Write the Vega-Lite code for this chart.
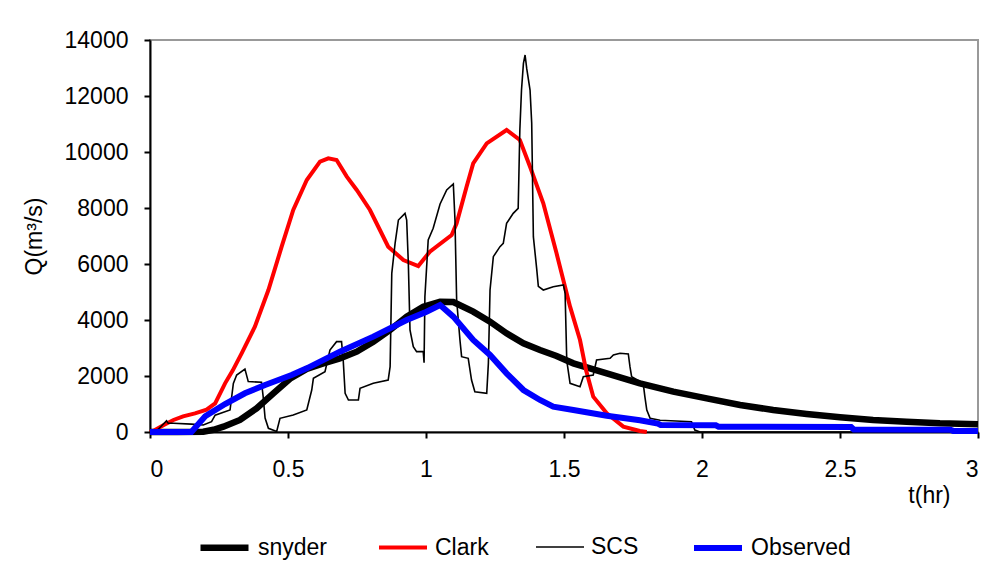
{
  "$schema": "https://vega.github.io/schema/vega-lite/v6.json",
  "autosize": {"type": "none"},
  "width": 828,
  "height": 392,
  "padding": {"left": 150, "top": 40, "right": 25, "bottom": 152},
  "background": "white",
  "config": {
    "font": "Liberation Sans",
    "view": {"stroke": "#999999", "strokeWidth": 2},
    "axis": {
      "grid": false,
      "domainColor": "black",
      "domainWidth": 2,
      "tickColor": "black",
      "tickWidth": 2,
      "tickSize": 6,
      "labelFont": "Liberation Sans",
      "labelFontSize": 23,
      "labelColor": "black",
      "titleFont": "Liberation Sans",
      "titleFontSize": 23,
      "titleFontWeight": "normal",
      "titleColor": "black"
    }
  },
  "datasets": {
    "flows": [
      {"series": "snyder", "t": 0, "q": 0},
      {"series": "snyder", "t": 0.1, "q": 0},
      {"series": "snyder", "t": 0.193, "q": 10},
      {"series": "snyder", "t": 0.23, "q": 80},
      {"series": "snyder", "t": 0.266, "q": 190},
      {"series": "snyder", "t": 0.326, "q": 430},
      {"series": "snyder", "t": 0.386, "q": 845},
      {"series": "snyder", "t": 0.447, "q": 1381},
      {"series": "snyder", "t": 0.507, "q": 1900},
      {"series": "snyder", "t": 0.568, "q": 2250},
      {"series": "snyder", "t": 0.628, "q": 2452},
      {"series": "snyder", "t": 0.688, "q": 2631},
      {"series": "snyder", "t": 0.749, "q": 2869},
      {"series": "snyder", "t": 0.809, "q": 3226},
      {"series": "snyder", "t": 0.87, "q": 3643},
      {"series": "snyder", "t": 0.93, "q": 4119},
      {"series": "snyder", "t": 0.99, "q": 4476},
      {"series": "snyder", "t": 1.051, "q": 4655},
      {"series": "snyder", "t": 1.099, "q": 4640},
      {"series": "snyder", "t": 1.171, "q": 4298},
      {"series": "snyder", "t": 1.232, "q": 3940},
      {"series": "snyder", "t": 1.292, "q": 3524},
      {"series": "snyder", "t": 1.353, "q": 3167},
      {"series": "snyder", "t": 1.413, "q": 2929},
      {"series": "snyder", "t": 1.473, "q": 2714},
      {"series": "snyder", "t": 1.534, "q": 2452},
      {"series": "snyder", "t": 1.655, "q": 2095},
      {"series": "snyder", "t": 1.775, "q": 1738},
      {"series": "snyder", "t": 1.896, "q": 1440},
      {"series": "snyder", "t": 2.017, "q": 1202},
      {"series": "snyder", "t": 2.138, "q": 964},
      {"series": "snyder", "t": 2.258, "q": 786},
      {"series": "snyder", "t": 2.379, "q": 643},
      {"series": "snyder", "t": 2.5, "q": 524},
      {"series": "snyder", "t": 2.62, "q": 429},
      {"series": "snyder", "t": 2.741, "q": 369},
      {"series": "snyder", "t": 2.862, "q": 310},
      {"series": "snyder", "t": 3.0, "q": 274},

      {"series": "Clark", "t": 0, "q": 0},
      {"series": "Clark", "t": 0.018, "q": 71},
      {"series": "Clark", "t": 0.05, "q": 250},
      {"series": "Clark", "t": 0.085, "q": 430},
      {"series": "Clark", "t": 0.12, "q": 560},
      {"series": "Clark", "t": 0.163, "q": 667},
      {"series": "Clark", "t": 0.205, "q": 800},
      {"series": "Clark", "t": 0.236, "q": 1024},
      {"series": "Clark", "t": 0.272, "q": 1738},
      {"series": "Clark", "t": 0.3, "q": 2200},
      {"series": "Clark", "t": 0.332, "q": 2810},
      {"series": "Clark", "t": 0.38, "q": 3762},
      {"series": "Clark", "t": 0.429, "q": 5071},
      {"series": "Clark", "t": 0.477, "q": 6619},
      {"series": "Clark", "t": 0.519, "q": 7929},
      {"series": "Clark", "t": 0.568, "q": 9000},
      {"series": "Clark", "t": 0.616, "q": 9655},
      {"series": "Clark", "t": 0.646, "q": 9774},
      {"series": "Clark", "t": 0.676, "q": 9714},
      {"series": "Clark", "t": 0.713, "q": 9119},
      {"series": "Clark", "t": 0.749, "q": 8643},
      {"series": "Clark", "t": 0.797, "q": 7929},
      {"series": "Clark", "t": 0.833, "q": 7214},
      {"series": "Clark", "t": 0.863, "q": 6619},
      {"series": "Clark", "t": 0.918, "q": 6143},
      {"series": "Clark", "t": 0.972, "q": 5929},
      {"series": "Clark", "t": 1.014, "q": 6440},
      {"series": "Clark", "t": 1.093, "q": 7036},
      {"series": "Clark", "t": 1.111, "q": 7452},
      {"series": "Clark", "t": 1.147, "q": 8762},
      {"series": "Clark", "t": 1.171, "q": 9595},
      {"series": "Clark", "t": 1.22, "q": 10310},
      {"series": "Clark", "t": 1.292, "q": 10786},
      {"series": "Clark", "t": 1.34, "q": 10429},
      {"series": "Clark", "t": 1.377, "q": 9476},
      {"series": "Clark", "t": 1.425, "q": 8167},
      {"series": "Clark", "t": 1.473, "q": 6381},
      {"series": "Clark", "t": 1.522, "q": 4476},
      {"series": "Clark", "t": 1.558, "q": 3286},
      {"series": "Clark", "t": 1.58, "q": 2200},
      {"series": "Clark", "t": 1.606, "q": 1262},
      {"series": "Clark", "t": 1.655, "q": 667},
      {"series": "Clark", "t": 1.715, "q": 190},
      {"series": "Clark", "t": 1.775, "q": 36},
      {"series": "Clark", "t": 1.8, "q": 0},

      {"series": "SCS", "t": 0, "q": 0},
      {"series": "SCS", "t": 0.03, "q": 100},
      {"series": "SCS", "t": 0.06, "q": 400},
      {"series": "SCS", "t": 0.066, "q": 310},
      {"series": "SCS", "t": 0.085, "q": 310},
      {"series": "SCS", "t": 0.15, "q": 280},
      {"series": "SCS", "t": 0.193, "q": 250},
      {"series": "SCS", "t": 0.223, "q": 369},
      {"series": "SCS", "t": 0.236, "q": 600},
      {"series": "SCS", "t": 0.29, "q": 786},
      {"series": "SCS", "t": 0.302, "q": 1738},
      {"series": "SCS", "t": 0.314, "q": 2036},
      {"series": "SCS", "t": 0.344, "q": 2250},
      {"series": "SCS", "t": 0.356, "q": 1800},
      {"series": "SCS", "t": 0.404, "q": 1780},
      {"series": "SCS", "t": 0.41, "q": 1262},
      {"series": "SCS", "t": 0.417, "q": 500},
      {"series": "SCS", "t": 0.429, "q": 131},
      {"series": "SCS", "t": 0.459, "q": 20},
      {"series": "SCS", "t": 0.471, "q": 488},
      {"series": "SCS", "t": 0.519, "q": 607},
      {"series": "SCS", "t": 0.568, "q": 786},
      {"series": "SCS", "t": 0.586, "q": 1500},
      {"series": "SCS", "t": 0.592, "q": 1917},
      {"series": "SCS", "t": 0.634, "q": 2155},
      {"series": "SCS", "t": 0.652, "q": 2929},
      {"series": "SCS", "t": 0.676, "q": 3226},
      {"series": "SCS", "t": 0.694, "q": 3226},
      {"series": "SCS", "t": 0.7, "q": 2571},
      {"series": "SCS", "t": 0.707, "q": 1381},
      {"series": "SCS", "t": 0.719, "q": 1143},
      {"series": "SCS", "t": 0.755, "q": 1143},
      {"series": "SCS", "t": 0.761, "q": 1560},
      {"series": "SCS", "t": 0.809, "q": 1738},
      {"series": "SCS", "t": 0.863, "q": 1857},
      {"series": "SCS", "t": 0.87, "q": 2333},
      {"series": "SCS", "t": 0.876, "q": 5667},
      {"series": "SCS", "t": 0.888, "q": 6738},
      {"series": "SCS", "t": 0.9, "q": 7571},
      {"series": "SCS", "t": 0.924, "q": 7810},
      {"series": "SCS", "t": 0.93, "q": 7571},
      {"series": "SCS", "t": 0.936, "q": 6024},
      {"series": "SCS", "t": 0.942, "q": 3643},
      {"series": "SCS", "t": 0.954, "q": 3048},
      {"series": "SCS", "t": 0.966, "q": 2869},
      {"series": "SCS", "t": 0.99, "q": 2869},
      {"series": "SCS", "t": 0.993, "q": 2476},
      {"series": "SCS", "t": 0.996, "q": 4833},
      {"series": "SCS", "t": 1.008, "q": 6857},
      {"series": "SCS", "t": 1.026, "q": 7274},
      {"series": "SCS", "t": 1.051, "q": 8143},
      {"series": "SCS", "t": 1.075, "q": 8643},
      {"series": "SCS", "t": 1.099, "q": 8857},
      {"series": "SCS", "t": 1.105, "q": 7571},
      {"series": "SCS", "t": 1.111, "q": 4714},
      {"series": "SCS", "t": 1.123, "q": 3286},
      {"series": "SCS", "t": 1.129, "q": 2690},
      {"series": "SCS", "t": 1.153, "q": 2631},
      {"series": "SCS", "t": 1.165, "q": 1857},
      {"series": "SCS", "t": 1.177, "q": 1440},
      {"series": "SCS", "t": 1.22, "q": 1381},
      {"series": "SCS", "t": 1.226, "q": 2452},
      {"series": "SCS", "t": 1.232, "q": 5071},
      {"series": "SCS", "t": 1.244, "q": 6262},
      {"series": "SCS", "t": 1.268, "q": 6619},
      {"series": "SCS", "t": 1.28, "q": 6738},
      {"series": "SCS", "t": 1.292, "q": 7452},
      {"series": "SCS", "t": 1.316, "q": 7810},
      {"series": "SCS", "t": 1.334, "q": 7988},
      {"series": "SCS", "t": 1.34, "q": 10786},
      {"series": "SCS", "t": 1.346, "q": 12214},
      {"series": "SCS", "t": 1.353, "q": 13167},
      {"series": "SCS", "t": 1.359, "q": 13464},
      {"series": "SCS", "t": 1.365, "q": 12976},
      {"series": "SCS", "t": 1.377, "q": 12214},
      {"series": "SCS", "t": 1.383, "q": 11024},
      {"series": "SCS", "t": 1.389, "q": 6976},
      {"series": "SCS", "t": 1.401, "q": 5833},
      {"series": "SCS", "t": 1.407, "q": 5200},
      {"series": "SCS", "t": 1.425, "q": 5071},
      {"series": "SCS", "t": 1.461, "q": 5190},
      {"series": "SCS", "t": 1.498, "q": 5250},
      {"series": "SCS", "t": 1.504, "q": 4952},
      {"series": "SCS", "t": 1.51, "q": 2550},
      {"series": "SCS", "t": 1.522, "q": 1738},
      {"series": "SCS", "t": 1.558, "q": 1619},
      {"series": "SCS", "t": 1.57, "q": 1976},
      {"series": "SCS", "t": 1.606, "q": 2036},
      {"series": "SCS", "t": 1.618, "q": 2571},
      {"series": "SCS", "t": 1.667, "q": 2631},
      {"series": "SCS", "t": 1.679, "q": 2750},
      {"series": "SCS", "t": 1.703, "q": 2810},
      {"series": "SCS", "t": 1.733, "q": 2786},
      {"series": "SCS", "t": 1.739, "q": 2333},
      {"series": "SCS", "t": 1.745, "q": 1976},
      {"series": "SCS", "t": 1.787, "q": 1738},
      {"series": "SCS", "t": 1.793, "q": 1262},
      {"series": "SCS", "t": 1.8, "q": 786},
      {"series": "SCS", "t": 1.812, "q": 488},
      {"series": "SCS", "t": 1.848, "q": 417},
      {"series": "SCS", "t": 1.962, "q": 369},
      {"series": "SCS", "t": 1.974, "q": 71},
      {"series": "SCS", "t": 1.993, "q": 0},
      {"series": "SCS", "t": 3.0, "q": 0},

      {"series": "Observed", "t": 0, "q": 0},
      {"series": "Observed", "t": 0.15, "q": 0},
      {"series": "Observed", "t": 0.2, "q": 560},
      {"series": "Observed", "t": 0.272, "q": 1000},
      {"series": "Observed", "t": 0.344, "q": 1381},
      {"series": "Observed", "t": 0.417, "q": 1679},
      {"series": "Observed", "t": 0.513, "q": 2036},
      {"series": "Observed", "t": 0.568, "q": 2274},
      {"series": "Observed", "t": 0.688, "q": 2869},
      {"series": "Observed", "t": 0.809, "q": 3405},
      {"series": "Observed", "t": 0.93, "q": 4000},
      {"series": "Observed", "t": 1.002, "q": 4298},
      {"series": "Observed", "t": 1.051, "q": 4536},
      {"series": "Observed", "t": 1.099, "q": 4119},
      {"series": "Observed", "t": 1.171, "q": 3286},
      {"series": "Observed", "t": 1.232, "q": 2750},
      {"series": "Observed", "t": 1.292, "q": 2095},
      {"series": "Observed", "t": 1.353, "q": 1500},
      {"series": "Observed", "t": 1.413, "q": 1143},
      {"series": "Observed", "t": 1.461, "q": 905},
      {"series": "Observed", "t": 1.534, "q": 786},
      {"series": "Observed", "t": 1.655, "q": 580},
      {"series": "Observed", "t": 1.775, "q": 420},
      {"series": "Observed", "t": 1.84, "q": 300},
      {"series": "Observed", "t": 1.85, "q": 250},
      {"series": "Observed", "t": 2.05, "q": 240},
      {"series": "Observed", "t": 2.06, "q": 190},
      {"series": "Observed", "t": 2.54, "q": 180},
      {"series": "Observed", "t": 2.55, "q": 90},
      {"series": "Observed", "t": 2.9, "q": 80},
      {"series": "Observed", "t": 2.91, "q": 40},
      {"series": "Observed", "t": 3.0, "q": 40}
    ]
  },
  "data": {"name": "flows"},
  "encoding": {
    "x": {
      "field": "t", "type": "quantitative",
      "scale": {"domain": [0, 3], "nice": false},
      "axis": {
        "values": [0, 0.5, 1, 1.5, 2, 2.5, 3],
        "format": "~g",
        "labelPadding": 20,
        "title": "t(hr)",
        "titleAnchor": "end",
        "titleAlign": "right",
        "titleX": 800,
        "titleY": 70,
        "titleBaseline": "alphabetic"
      }
    },
    "y": {
      "field": "q", "type": "quantitative",
      "scale": {"domain": [0, 14000], "nice": false},
      "axis": {
        "values": [0, 2000, 4000, 6000, 8000, 10000, 12000, 14000],
        "format": "d",
        "labelPadding": 16,
        "title": "Q(m³/s)",
        "titlePadding": 18
      }
    },
    "color": {
      "field": "series", "type": "nominal",
      "scale": {"domain": ["snyder", "Clark", "SCS", "Observed"], "range": ["#000000", "#ff0000", "#000000", "#0000ff"]},
      "legend": {
        "title": null,
        "orient": "none",
        "direction": "horizontal",
        "legendX": 47,
        "legendY": 480,
        "symbolType": "stroke",
        "symbolSize": 2304,
        "labelFont": "Liberation Sans",
        "labelFontSize": 23,
        "labelColor": "black",
        "labelOffset": 6,
        "columnPadding": 43,
        "symbolOpacity": 1
      }
    },
    "strokeWidth": {
      "field": "series", "type": "nominal",
      "scale": {"type": "ordinal", "domain": ["snyder", "Clark", "SCS", "Observed"], "range": [6.5, 4, 1.6, 6]}
    }
  },
  "layer": [
    {"transform": [{"filter": "datum.series === 'snyder'"}], "mark": {"type": "line", "strokeCap": "butt"}},
    {"transform": [{"filter": "datum.series === 'Clark'"}], "mark": {"type": "line", "strokeCap": "butt"}},
    {"transform": [{"filter": "datum.series === 'SCS'"}], "mark": {"type": "line", "strokeCap": "butt"}},
    {"transform": [{"filter": "datum.series === 'Observed'"}], "mark": {"type": "line", "strokeCap": "butt"}}
  ]
}
